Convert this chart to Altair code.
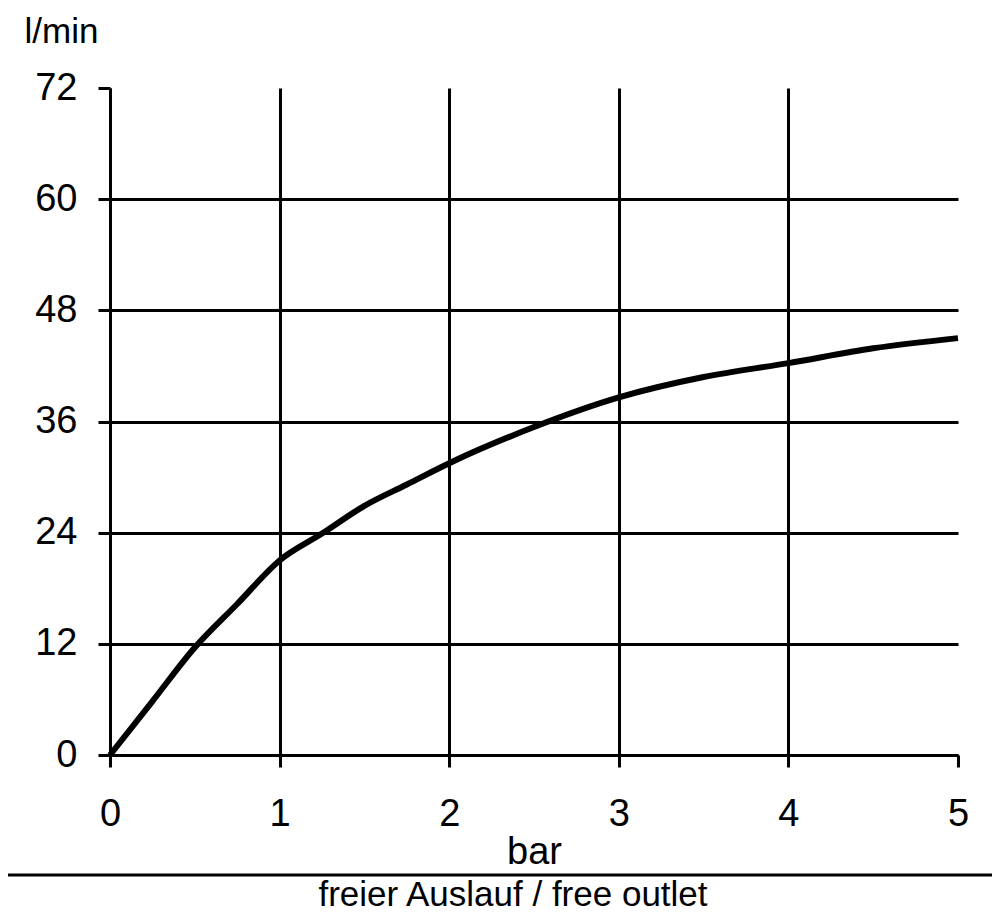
import altair as alt
import pandas as pd

pressure_bar = [0, 0.25, 0.5, 0.75, 1.0, 1.25, 1.5, 1.75, 2.0, 2.5, 3.0, 3.5, 4.0, 4.5, 5.0]
flow_lmin = [0, 5.8, 11.6, 16.3, 21.0, 23.9, 26.9, 29.2, 31.5, 35.4, 38.6, 40.8, 42.3, 43.9, 45.0]
x_ticks = [0, 1, 2, 3, 4, 5]
y_ticks = [0, 12, 24, 36, 48, 60, 72]

df = pd.DataFrame({"bar": pressure_bar, "flow": flow_lmin})

FONT = "Liberation Sans"
FS = 38

x_enc = alt.X(
    "bar:Q",
    scale=alt.Scale(domain=[0, 5], nice=False, zero=True),
    axis=alt.Axis(
        values=x_ticks,
        title="bar",
        titleFont=FONT,
        titleFontSize=FS,
        titleFontWeight="normal",
        titleColor="black",
        titleBaseline="top",
        titleY=78,
        labelFont=FONT,
        labelFontSize=FS,
        labelColor="black",
        labelPadding=28,
        labelFlush=False,
        labelOverlap=False,
        tickColor="black",
        tickSize=12,
        tickWidth=3,
        domainColor="black",
        domainWidth=3,
        grid=True,
        gridColor="black",
        gridWidth=3,
        gridOpacity={"condition": {"test": "datum.value == 5", "value": 0}, "value": 1},
    ),
)

y_enc = alt.Y(
    "flow:Q",
    scale=alt.Scale(domain=[0, 72], nice=False),
    axis=alt.Axis(
        values=y_ticks,
        title="l/min",
        titleFont=FONT,
        titleFontSize=35,
        titleFontWeight="normal",
        titleColor="black",
        titleAngle=0,
        titleAlign="left",
        titleBaseline="top",
        titleX=-86,
        titleY=-74,
        labelFont=FONT,
        labelFontSize=FS,
        labelColor="black",
        labelPadding=21,
        labelFlush=False,
        labelOverlap=False,
        tickColor="black",
        tickSize=12,
        tickWidth=3,
        domainColor="black",
        domainWidth=3,
        grid=True,
        gridColor="black",
        gridWidth=3,
        gridOpacity={"condition": {"test": "datum.value == 72", "value": 0}, "value": 1},
    ),
)

curve = alt.Chart(df).mark_line(color="black", strokeWidth=6, interpolate="monotone").encode(
    x=x_enc, y=y_enc
)

sep = alt.Chart(pd.DataFrame({"k": [0]})).mark_rule(color="black", strokeWidth=3).encode(
    x=alt.value(-110), x2=alt.value(890), y=alt.value(787)
)

caption = alt.Chart(pd.DataFrame({"t": ["freier Auslauf / free outlet"]})).mark_text(
    font=FONT, fontSize=35, color="black", align="center", baseline="top"
).encode(x=alt.value(403), y=alt.value(790), text="t:N")

chart = (
    alt.layer(curve, sep, caption)
    .properties(
        width=848,
        height=667,
        autosize=alt.AutoSizeParams(type="none"),
        padding={"left": 102, "top": 80, "right": 34, "bottom": 159},
        background="white",
    )
    .configure_view(strokeWidth=0)
)

chart.save("out.html", embed_options={"renderer": "svg", "actions": False})
